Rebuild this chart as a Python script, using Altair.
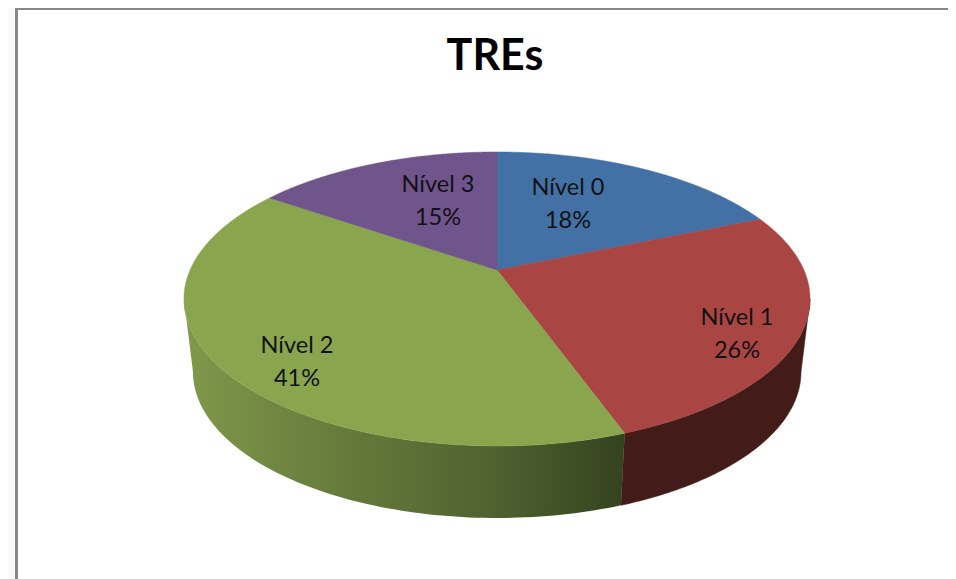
import math
import altair as alt
import pandas as pd

# --- data -------------------------------------------------------------
categories = ["Nível 0", "Nível 1", "Nível 2", "Nível 3"]
shown_percent = [18, 26, 41, 15]
shares = [18.7, 25.8, 40.1, 15.4]
top_colors = ["#4371A6", "#A94643", "#89A54E", "#70548C"]
title_text = "TREs"

# --- layout (page pixels) ---------------------------------------------
CX, APEX_Y, RX, RT, K = 497.0, 270.0, 306.9, 141.3, 0.197
TOP_CY, TOP_A, TOP_B = 299.0, 313.0, 147.0
BOT_CY, BOT_A, BOT_B = 372.0, 304.0, 146.0
label_anchor = {
    "Nível 0": (568, 204), "Nível 1": (737, 334),
    "Nível 2": (297, 362), "Nível 3": (438, 201),
}
LABEL_GAP = 16.5
CHART_W = 940
CHART_H = 571
RIGHT = 8 + CHART_W
BOTTOM = 8 + CHART_H


def top_point(angle):
    """angle is clockwise from 12 o'clock, in degrees, on the tilted disc."""
    a = math.radians(angle)
    X, t = math.sin(a), -math.cos(a)
    w = 1 - K * t
    return CX + RX * X / w, APEX_Y + RT * t / w


def bottom_point(angle):
    x, y = top_point(angle)
    psi = math.atan2((y - TOP_CY) / TOP_B, (x - CX) / TOP_A)
    return CX + BOT_A * math.cos(psi), BOT_CY + BOT_B * math.sin(psi)


def find_extreme(lo, hi, sign):
    best, val = lo, None
    for i in range(2001):
        a = lo + (hi - lo) * i / 2000
        x = top_point(a)[0] * sign
        if val is None or x > val:
            best, val = a, x
    return best


edges = [0.0]
for s in shares:
    edges.append(edges[-1] + s / sum(shares) * 360)

X_SCALE = alt.Scale(domain=[8, RIGHT])
Y_SCALE = alt.Scale(domain=[BOTTOM, 8])
X = alt.X("x:Q", scale=X_SCALE, axis=None)
Y = alt.Y("y:Q", scale=Y_SCALE, axis=None)


def polygon(points, **mark):
    df = pd.DataFrame(points, columns=["x", "y"])
    df["i"] = range(len(df))
    return (
        alt.Chart(df)
        .mark_line(interpolate="linear-closed", clip=False, **mark)
        .encode(x=X, y=Y, order="i:Q")
    )


def box(x0, x1, y0, y1, color):
    df = pd.DataFrame([{"x": x0, "x2": x1, "y": y0, "y2": y1}])
    return (
        alt.Chart(df)
        .mark_rect(color=color)
        .encode(x=X, x2="x2:Q", y=Y, y2="y2:Q")
    )


layers = [
    box(8, 15, 8, BOTTOM, "#F8F8F8"),
    box(15, 18, 8, BOTTOM, "#888888"),
    box(15, RIGHT, 8, 10, "#888888"),
]

# side wall: right-hand (dark red) and front (green) parts
right_extreme = find_extreme(60, 120, 1)
left_extreme = find_extreme(240, 300, -1)
N = 90
red_angles = [right_extreme + (edges[2] - right_extreme) * i / N for i in range(N + 1)]
green_angles = [edges[2] + (left_extreme - edges[2]) * i / N for i in range(N + 1)]
layers.append(
    polygon(
        [top_point(a) for a in red_angles] + [bottom_point(a) for a in reversed(red_angles)],
        fill="#431B18", stroke="#431B18", strokeWidth=0.5,
    )
)
layers.append(
    polygon(
        [top_point(a) for a in green_angles] + [bottom_point(a) for a in reversed(green_angles)],
        fill=alt.LinearGradient(
            gradient="linear", x1=1, x2=0, y1=0, y2=0,
            stops=[
                alt.GradientStop(offset=0, color="#34431F"),
                alt.GradientStop(offset=0.3, color="#4F6230"),
                alt.GradientStop(offset=0.7, color="#6B7F3E"),
                alt.GradientStop(offset=1, color="#7F994A"),
            ],
        ),
        strokeWidth=0,
    )
)

# top face slices
for i, color in enumerate(top_colors):
    a0, a1 = edges[i], edges[i + 1]
    pts = [(CX, APEX_Y)] + [top_point(a0 + (a1 - a0) * j / 120) for j in range(121)]
    layers.append(polygon(pts, fill=color, stroke=color, strokeWidth=0.5))

# labels
rows = []
for name, pct in zip(categories, shown_percent):
    ax, ay = label_anchor[name]
    rows.append({"x": ax, "y": ay - LABEL_GAP, "t": name})
    rows.append({"x": ax, "y": ay + LABEL_GAP, "t": f"{pct}%"})
layers.append(
    alt.Chart(pd.DataFrame(rows))
    .mark_text(font="Lato", fontSize=23.5, color="#111111", align="center", baseline="middle")
    .encode(x=X, y=Y, text="t:N")
)
layers.append(
    alt.Chart(pd.DataFrame([{"x": 495, "y": 57, "t": title_text}]))
    .mark_text(font="Lato", fontSize=43, fontWeight="bold", color="#000000", align="center", baseline="middle")
    .encode(x=X, y=Y, text="t:N")
)

chart = (
    alt.layer(*layers)
    .properties(width=CHART_W, height=CHART_H, padding=0, autosize="none", background="#FFFFFF")
    .configure_view(stroke=None)
)
chart.save("out.html", embed_options={"renderer": "svg", "actions": False})
